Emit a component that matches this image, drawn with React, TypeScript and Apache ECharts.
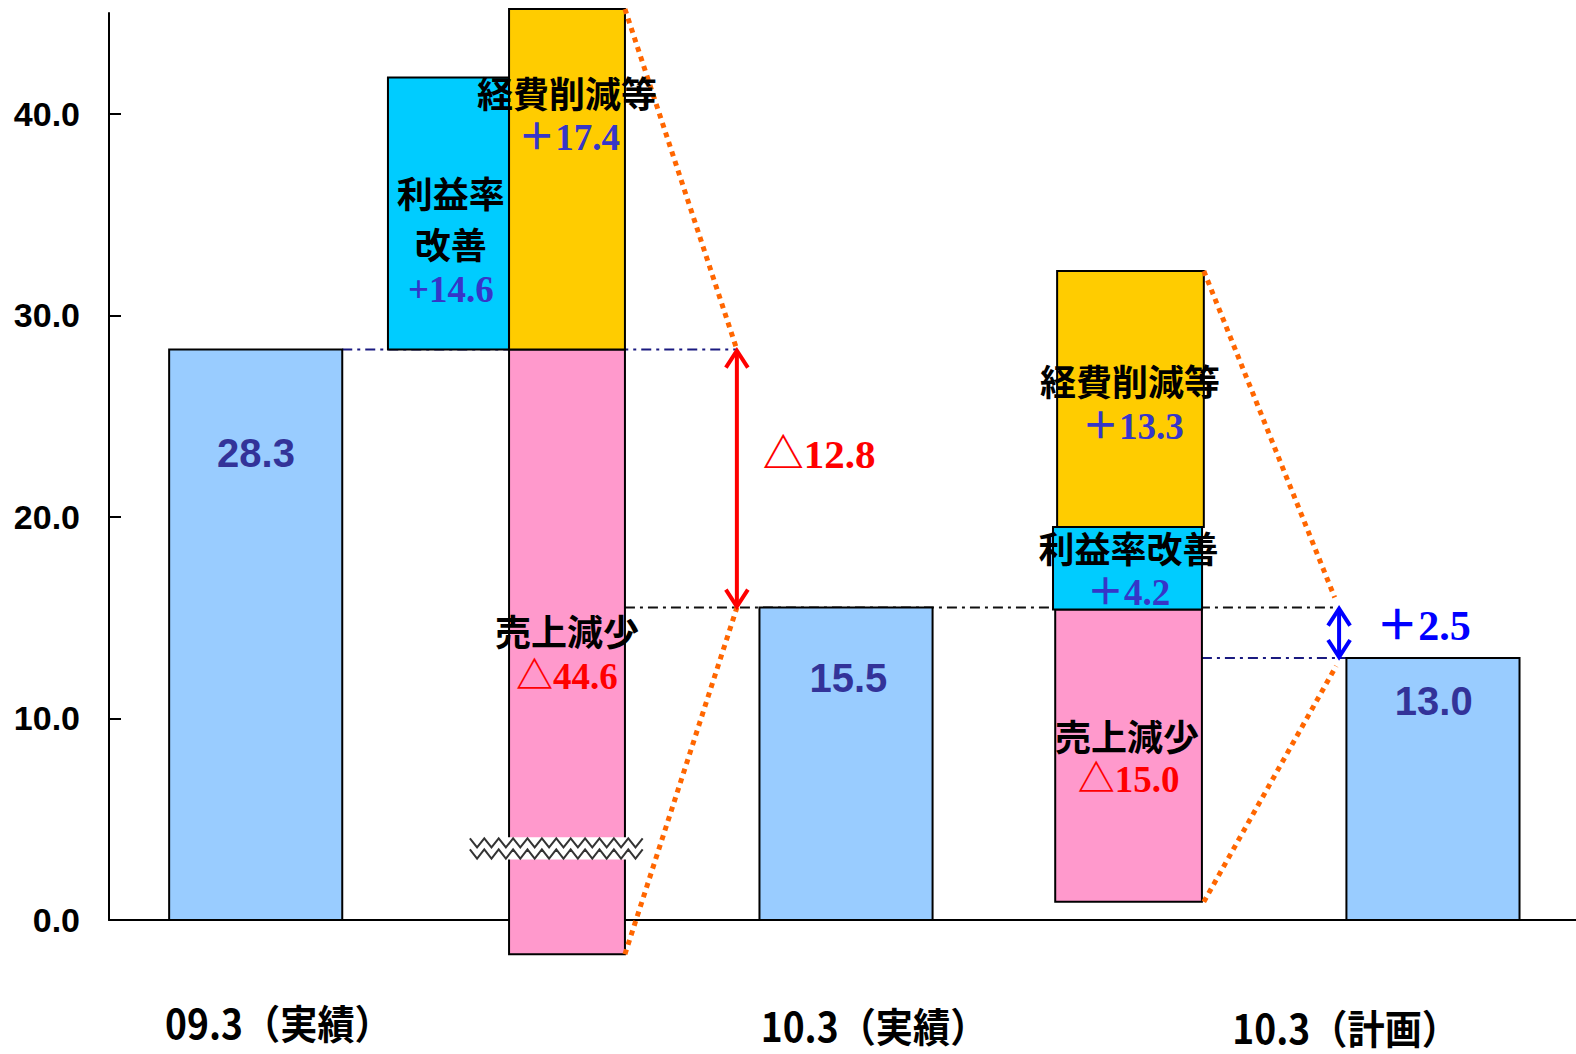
import React, { useEffect, useRef } from "react";
import * as echarts from "echarts";

// ---------------- data ----------------
const categories = ["09.3（実績）", "10.3（実績）", "10.3（計画）"];
const totals = [28.3, 15.5, 13.0];
const totalLabels = ["28.3", "15.5", "13.0"];

// bridge 09.3 -> 10.3 actual: [利益率改善, 経費削減等, 売上減少]
const bridge1Low = [28.3, 28.3, -1.7];
const bridge1High = [41.8, 45.2, 28.3];
const bridge1Labels = ["+14.6", "＋17.4", "△44.6"];

// bridge 10.3 actual -> 10.3 plan: [利益率改善, 経費削減等, 売上減少]
const bridge2Low = [15.4, 19.5, 0.9];
const bridge2High = [19.5, 32.2, 15.4];
const bridge2Labels = ["＋4.2", "＋13.3", "△15.0"];

const diffLabels = ["△12.8", "＋2.5"];
const diffFrom = [28.3, 15.5];
const diffTo = [15.5, 13.0];

const yTicks = [0, 10, 20, 30, 40];
const breakBand = [3.0, 4.1];

// ---------------- layout / styles ----------------
const SANS = '"Liberation Sans", Arial, sans-serif';
const SERIF = '"Liberation Serif", "Times New Roman", "Noto Sans CJK JP", serif';
const CJK = '"Noto Sans CJK JP", sans-serif';

const totalX = [1.0, 5.024, 9.025];
const totalW = 1.18;
const totalLabelY = [23.15, 12.0, 10.85];
const totalLabelX = [1.002, 5.04, 9.03];
const catLabelX = [1.155, 5.215, 8.43];
const catLabelDy = [101, 104, 106];

const bridge1X = [2.314, 3.122, 3.122];
const bridge1W = [0.825, 0.79, 0.79];
const bridge2X = [6.943, 6.963, 6.95];
const bridge2W = [1.016, 1.0, 1.0];
const factorColors = ["#00CCFF", "#FFCC00", "#FF99CC"];
const totalColor = "#99CCFF";

const arrowX = [4.28, 8.385];

type BarItem = { x: number; w: number; low: number; high: number; fill: string };
const barItems: BarItem[] = [];
totals.forEach((v, i) => barItems.push({ x: totalX[i], w: totalW, low: 0, high: v, fill: totalColor }));
// draw cyan first, then pink, then yellow
[0, 2, 1].forEach((k) =>
  barItems.push({ x: bridge1X[k], w: bridge1W[k], low: bridge1Low[k], high: bridge1High[k], fill: factorColors[k] })
);
[2, 0, 1].forEach((k) =>
  barItems.push({ x: bridge2X[k], w: bridge2W[k], low: bridge2Low[k], high: bridge2High[k], fill: factorColors[k] })
);

type TextItem = {
  x: number; y: number; text: string; size: number; family: string; weight: string; fill: string; scaleX?: number;
};
const BLACK = "#000000";
const NUMBLUE = "#3636C8";
const RED = "#FF0000";
const textItems: TextItem[] = [
  // bridge 1
  { x: 2.33, y: 36.1, text: "利益率", size: 36, family: CJK, weight: "bold", fill: BLACK },
  { x: 2.33, y: 33.6, text: "改善", size: 36, family: CJK, weight: "bold", fill: BLACK },
  { x: 2.33, y: 31.3, text: bridge1Labels[0], size: 37, family: SERIF, weight: "bold", fill: NUMBLUE },
  { x: 3.122, y: 41.1, text: "経費削減等", size: 36, family: CJK, weight: "bold", fill: BLACK },
  { x: 3.136, y: 38.8, text: bridge1Labels[1], size: 37, family: SERIF, weight: "bold", fill: NUMBLUE },
  { x: 3.122, y: 14.4, text: "売上減少", size: 36, family: CJK, weight: "bold", fill: BLACK },
  { x: 3.122, y: 12.1, text: bridge1Labels[2], size: 37, family: SERIF, weight: "bold", fill: RED },
  { x: 4.84, y: 23.1, text: diffLabels[0], size: 41, family: SERIF, weight: "bold", fill: RED },
  // bridge 2
  { x: 6.96, y: 26.8, text: "経費削減等", size: 36, family: CJK, weight: "bold", fill: BLACK },
  { x: 6.98, y: 24.5, text: bridge2Labels[1], size: 37, family: SERIF, weight: "bold", fill: NUMBLUE },
  { x: 6.95, y: 18.5, text: "利益率改善", size: 36, family: CJK, weight: "bold", fill: BLACK },
  { x: 6.95, y: 16.25, text: bridge2Labels[0], size: 37, family: SERIF, weight: "bold", fill: NUMBLUE },
  { x: 6.94, y: 9.2, text: "売上減少", size: 36, family: CJK, weight: "bold", fill: BLACK },
  { x: 6.95, y: 6.95, text: bridge2Labels[2], size: 37, family: SERIF, weight: "bold", fill: RED },
  { x: 8.96, y: 14.6, text: diffLabels[1], size: 42, family: SERIF, weight: "bold", fill: "#0000FF" },
];
totalLabels.forEach((t, i) =>
  textItems.push({ x: totalLabelX[i], y: totalLabelY[i], text: t, size: 40, family: SANS, weight: "bold", fill: "#333399" })
);

const one = [[0, 0]];

export default function App() {
  const ref = useRef<HTMLDivElement>(null);
  useEffect(() => {
    if (!ref.current) return;
    const chart = echarts.init(ref.current, undefined, { renderer: "svg" });

    const dashLine = (api: any, x1: number, x2: number, y: number, color: string) => {
      const a = api.coord([x1, y]);
      const b = api.coord([x2, y]);
      return {
        type: "line",
        shape: { x1: a[0], y1: a[1], x2: b[0], y2: b[1] },
        style: { stroke: color, lineWidth: 2, lineDash: [10, 5, 3, 5] },
      };
    };
    const dotLine = (api: any, x1: number, y1: number, x2: number, y2: number) => {
      const a = api.coord([x1, y1]);
      const b = api.coord([x2, y2]);
      return {
        type: "line",
        shape: { x1: a[0], y1: a[1], x2: b[0], y2: b[1] },
        style: { stroke: "#FF6600", lineWidth: 5, lineDash: [5, 5] },
      };
    };
    const arrow = (api: any, x: number, yA: number, yB: number, color: string) => {
      const a = api.coord([x, yA]);
      const b = api.coord([x, yB]);
      const hw = 11, hl = 18;
      return {
        type: "group",
        children: [
          { type: "line", shape: { x1: a[0], y1: a[1] + 2, x2: b[0], y2: b[1] - 2 }, style: { stroke: color, lineWidth: 4 } },
          { type: "polyline", shape: { points: [[a[0] - hw, a[1] + hl], [a[0], a[1] + 1], [a[0] + hw, a[1] + hl]] }, style: { stroke: color, lineWidth: 4, fill: "none" } },
          { type: "polyline", shape: { points: [[b[0] - hw, b[1] - hl], [b[0], b[1] - 1], [b[0] + hw, b[1] - hl]] }, style: { stroke: color, lineWidth: 4, fill: "none" } },
        ],
      };
    };

    const option: any = {
      animation: false,
      backgroundColor: "#ffffff",
      grid: { left: 109, right: 0, top: 13, bottom: 134 },
      xAxis: {
        type: "value",
        min: 0,
        max: 10,
        axisLine: { show: true, onZero: false, lineStyle: { color: "#000", width: 2 } },
        axisTick: { show: false },
        axisLabel: { show: false },
        splitLine: { show: false },
      },
      yAxis: {
        type: "value",
        min: 0,
        max: 45,
        interval: 10,
        axisLine: { show: true, lineStyle: { color: "#000", width: 2 } },
        axisTick: { show: true, inside: true, length: 12, lineStyle: { color: "#000", width: 2 }, customValues: yTicks },
        axisLabel: {
          customValues: yTicks,
          formatter: (v: number) => v.toFixed(1),
          fontSize: 34,
          fontWeight: "bold",
          fontFamily: SANS,
          color: "#000",
          margin: 29,
        },
        splitLine: { show: false },
      },
      series: [
        {
          type: "custom",
          z: 1,
          silent: true,
          data: one,
          renderItem: (_p: any, api: any) => ({
            type: "group",
            children: [
              dashLine(api, totalX[0] + totalW / 2, arrowX[0], totals[0], "#1A1A80"),
              dashLine(api, bridge1X[2] + bridge1W[2] / 2, arrowX[1] - 0.03, totals[1], "#111111"),
              dashLine(api, bridge2X[2] + bridge2W[2] / 2, totalX[2] - totalW / 2, totals[2], "#1A1A80"),
            ],
          }),
        },
        {
          type: "custom",
          z: 2,
          silent: true,
          data: barItems.map((b) => [b.x, b.low, b.high]),
          renderItem: (params: any, api: any) => {
            const b = barItems[params.dataIndex];
            const p1 = api.coord([b.x - b.w / 2, b.high]);
            const p2 = api.coord([b.x + b.w / 2, b.low]);
            return {
              type: "rect",
              shape: { x: p1[0], y: p1[1], width: p2[0] - p1[0], height: p2[1] - p1[1] },
              style: { fill: b.fill, stroke: "#000", lineWidth: 2 },
            };
          },
        },
        {
          type: "custom",
          z: 3,
          silent: true,
          data: one,
          renderItem: (_p: any, api: any) => {
            const a = api.coord([2.46, breakBand[1]]);
            const b = api.coord([3.64, breakBand[0]]);
            const top = a[1], bot = b[1];
            const mid = (top + bot) / 2;
            const mk = (y0: number, y1: number) => {
              const pts: number[][] = [];
              let k = 0;
              for (let x = a[0]; x <= b[0]; x += 7.2) {
                pts.push([x, k % 2 === 0 ? y0 : y1]);
                k++;
              }
              return pts;
            };
            return {
              type: "group",
              children: [
                { type: "rect", shape: { x: a[0], y: top, width: b[0] - a[0], height: bot - top }, style: { fill: "#ffffff" } },
                { type: "polyline", shape: { points: mk(top + 1, mid - 1) }, style: { stroke: "#333", lineWidth: 2, fill: "none" } },
                { type: "polyline", shape: { points: mk(mid + 1, bot - 1) }, style: { stroke: "#333", lineWidth: 2, fill: "none" } },
              ],
            };
          },
        },
        {
          type: "custom",
          z: 4,
          silent: true,
          data: one,
          renderItem: (_p: any, api: any) => {
            const r1 = bridge1X[1] + bridge1W[1] / 2;
            const r2 = bridge2X[1] + bridge2W[1] / 2;
            return {
              type: "group",
              children: [
                dotLine(api, r1, bridge1High[1], arrowX[0], diffFrom[0]),
                dotLine(api, r1, bridge1Low[2], arrowX[0], diffTo[0]),
                dotLine(api, r2, bridge2High[1], arrowX[1] - 0.03, diffFrom[1] + 0.5),
                dotLine(api, r2, bridge2Low[2], arrowX[1] - 0.02, diffTo[1] - 0.4),
                arrow(api, arrowX[0], diffFrom[0], diffTo[0], "#FF0000"),
                arrow(api, arrowX[1], diffFrom[1], diffTo[1], "#0000FF"),
              ],
            };
          },
        },
        {
          type: "custom",
          z: 5,
          silent: true,
          data: textItems.map((t) => [t.x, t.y]),
          renderItem: (params: any, api: any) => {
            const t = textItems[params.dataIndex];
            const p = api.coord([t.x, t.y]);
            return {
              type: "text",
              x: p[0],
              y: p[1],
              scaleX: t.scaleX ?? 1,
              style: {
                text: t.text,
                fill: t.fill,
                fontSize: t.size,
                fontFamily: t.family,
                fontWeight: t.weight,
                align: "center",
                verticalAlign: "middle",
              },
            };
          },
        },
        {
          type: "custom",
          z: 5,
          silent: true,
          data: categories.map((_c, i) => [catLabelX[i], 0]),
          renderItem: (params: any, api: any) => {
            const i = params.dataIndex;
            const p = api.coord([catLabelX[i], 0]);
            return {
              type: "text",
              x: p[0],
              y: p[1] + catLabelDy[i],
              scaleX: 0.93,
              style: {
                text: categories[i],
                fill: "#000",
                fontSize: 40,
                fontFamily: CJK,
                fontWeight: "bold",
                align: "center",
                verticalAlign: "middle",
              },
            };
          },
        },
      ],
    };
    chart.setOption(option);
    return () => chart.dispose();
  }, []);

  return (
    <div
      ref={ref}
      style={{ position: "absolute", left: 0, top: 0, width: 1576, height: 1054, background: "#fff" }}
    />
  );
}
